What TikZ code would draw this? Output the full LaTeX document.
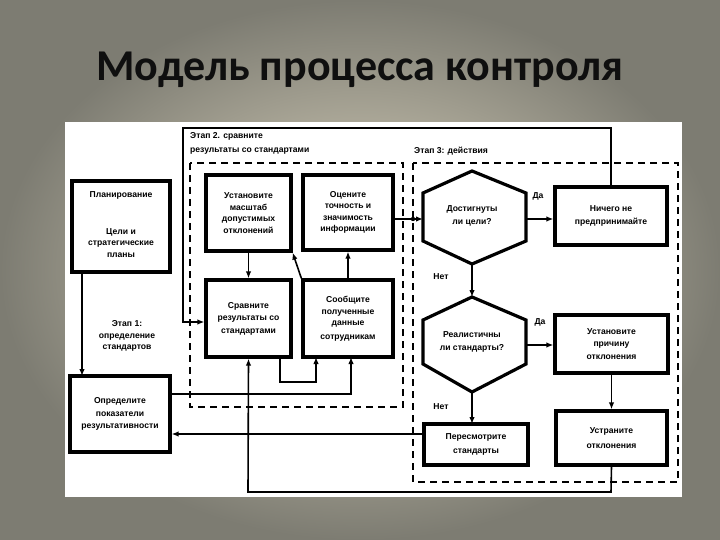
\documentclass[tikz,border=0pt]{standalone}
\usepackage{fontspec}
\setmainfont{Liberation Sans}
\newfontfamily\titlefont{Carlito}
\usetikzlibrary{arrows.meta}
\begin{document}
\begin{tikzpicture}[x=1pt,y=-1pt,
  box/.style={draw,line width=3.2pt,fill=white},
  txt/.style={font=\fontsize{8.6}{9.5}\selectfont\bfseries,align=center,inner sep=0},
  ln/.style={line width=1.6pt},
  ar/.style={ln,-{Latex[length=7pt,width=5.5pt]}},
  dsh/.style={line width=1.8pt,dash pattern=on 7pt off 5pt}]
\useasboundingbox (0,0) rectangle (720,540);
\shade[inner color={rgb,255:red,225;green,218;blue,196},outer color={rgb,255:red,125;green,124;blue,114}] (0,0) rectangle (720,540);
\node[font=\titlefont\fontsize{44}{48}\selectfont\bfseries,text={rgb,255:red,15;green,15;blue,15}] (title) at (360,70) {Модель процесса контроля};
\fill[white] (65,122) rectangle (682,497);
% dashed stage boxes
\draw[dsh] (190,163) rectangle (403,407);
\draw[dsh] (413,163) rectangle (678,482);
\node[txt,anchor=west,align=left] (s2) at (190,136) {Этап 2. сравните};
\node[txt,anchor=west,align=left] (s2b) at (190,151) {результаты со стандартами};
\node[txt,anchor=west] (s3) at (414,151) {Этап 3: действия};
\node[txt] (s1) at (127,336) {Этап 1:\\[2pt]определение\\[2pt]стандартов};
% boxes
\node[box,minimum width=98pt,minimum height=91pt] (plan) at (121,226.5) {};
\node[txt] at (121,195) {Планирование};
\node[txt] at (121,243) {Цели и\\[2pt]стратегические\\[2pt]планы};
\node[box,minimum width=100pt,minimum height=76pt,txt,inner sep=0] (opr) at (120,414) {Определите\\[3pt]показатели\\[3pt]результативности};
\node[box,minimum width=85pt,minimum height=76pt,txt] (ust) at (248.5,213) {Установите\\[2pt]масштаб\\[2pt]допустимых\\[2pt]отклонений};
\node[box,minimum width=90pt,minimum height=75pt,txt] (oce) at (348,212.5) {Оцените\\[2pt]точность и\\[2pt]значимость\\[2pt]информации};
\node[box,minimum width=85pt,minimum height=77pt,txt] (srav) at (248.5,318.5) {Сравните\\[3pt]результаты со\\[3pt]стандартами};
\node[box,minimum width=90pt,minimum height=77pt,txt] (soob) at (348,318.5) {Сообщите\\[2pt]полученные\\[2pt]данные\\[4pt]сотрудникам};
\draw[line width=3.2pt,fill=white] (472,171) -- (526,193) -- (526,241) -- (472,264) -- (423,241) -- (423,193) -- cycle;
\node[txt] (h1) at (472,216) {Достигнуты\\[4pt]ли цели?};
\draw[line width=3.2pt,fill=white] (472,297) -- (526,320) -- (526,364) -- (472,392) -- (423,364) -- (423,320) -- cycle;
\node[txt] (h2) at (472,342) {Реалистичны\\[4pt]ли стандарты?};
\node[box,minimum width=112pt,minimum height=58pt,txt] (nich) at (611,216) {Ничего не\\[4pt]предпринимайте};
\node[box,minimum width=113pt,minimum height=58pt,txt] (prich) at (611.5,344) {Установите\\[3pt]причину\\[3pt]отклонения};
\node[box,minimum width=111pt,minimum height=54pt,txt] (ustr) at (611.5,438) {Устраните\\[5pt]отклонения};
\node[box,minimum width=104pt,minimum height=41pt,txt] (pere) at (476,444.5) {Пересмотрите\\[4pt]стандарты};
\node[txt] (da1) at (538,196) {Да};
\node[txt] (da2) at (540,322) {Да};
\node[txt] (net1) at (441,277) {Нет};
\node[txt] (net2) at (441,407) {Нет};
% connectors
\draw[ar] (82,272) -- (82,376);
\draw[ar] (ust.south) -- (srav.north);
\draw[ar] (soob.north west) -- (ust.south east);
\draw[ar] (soob.north) -- (oce.south);
\draw[ar] (280,357) -- (280,382) -- (316,382) -- (316,357);
\draw[ar] (opr.east |- 0,394) -- (351,394) -- (351,357);
\draw[ar] (oce.east |- 0,219) -- (423,219);
\fill (413,219) circle (2.2pt);
\draw[ar] (526,219) -- (nich.west |- 0,219);
\draw[ar] (472,264) -- (472,297);
\draw[ar] (526,345) -- (prich.west |- 0,345);
\draw[ar] (prich.south) -- (ustr.north);
\draw[ar] (472,392) -- (472,424);
\draw[ar] (pere.west |- 0,434) -- (opr.east |- 0,434);
\draw[ar] (ustr.south) -- (611,492) -- (248,492) -- (srav.south);
\draw[ar] (nich.north) -- (611,128) -- (183,128) -- (183,322) -- (srav.west |- 0,322);
\end{tikzpicture}
\end{document}
